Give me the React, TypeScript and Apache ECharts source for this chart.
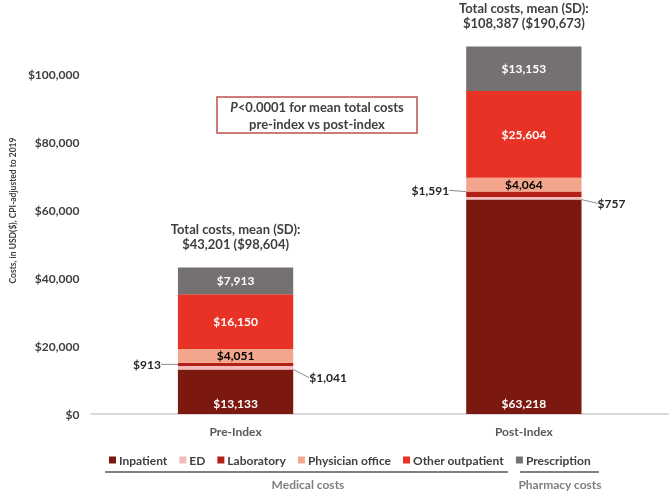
import React, { useEffect, useRef } from "react";
import * as echarts from "echarts";

const categories = ["Pre-Index", "Post-Index"];
const inpatient = [13133, 63218];
const ed = [1041, 757];
const laboratory = [913, 1591];
const physicianOffice = [4051, 4064];
const otherOutpatient = [16150, 25604];
const prescription = [7913, 13153];
const totalMeans = [43201, 108387];
const totalSDs = [98604, 190673];
const yTicks = [0, 20000, 40000, 60000, 80000, 100000];

const FONT = "Lato";
const TXT = "#404040";

const fmt = (v: number) => "$" + v.toLocaleString("en-US");

export default function App() {
  const ref = useRef<HTMLDivElement>(null);
  useEffect(() => {
    if (!ref.current) return;
    const chart = echarts.init(ref.current, null, { renderer: "svg" });
    const baseLabel = {
      show: true,
      fontFamily: FONT,
      fontWeight: "bold" as const,
      fontSize: 12,
      formatter: (p: any) => fmt(p.value),
    };
    const edDy = [10, 5];
    const labDy = [0, -4];
    chart.setOption({
      animation: false,
      grid: { left: 80, right: 1, top: 7, bottom: 78 },
      legend: {
        data: ["Inpatient", "ED", "Laboratory", "Physician office", "Other outpatient", "Prescription"],
        left: 104,
        top: 449,
        icon: "rect",
        itemWidth: 7,
        itemHeight: 7,
        itemGap: 12,
        textStyle: { fontFamily: FONT, fontWeight: "bold", fontSize: 12, color: TXT, padding: [0, 0, 0, -2] },
      },
      xAxis: {
        type: "category",
        data: categories,
        axisTick: { show: false },
        axisLine: { lineStyle: { color: "#d9d9d9", width: 2 } },
        axisLabel: { fontFamily: FONT, fontWeight: "bold", fontSize: 12, color: "#595959", margin: 11 },
      },
      yAxis: {
        type: "value",
        min: 0,
        max: 120000,
        interval: 20000,
        name: "Costs, in USD($), CPI-adjusted to 2019",
        nameLocation: "middle",
        nameGap: 72,
        nameTextStyle: { fontFamily: FONT, fontWeight: "bold", fontSize: 8.5, color: TXT },
        splitLine: { show: false },
        axisLine: { show: false },
        axisTick: { show: false },
        axisLabel: {
          fontFamily: FONT,
          fontWeight: "bold",
          fontSize: 12,
          color: TXT,
          margin: 12,
          formatter: (v: number) => (yTicks.indexOf(v) >= 0 ? fmt(v) : ""),
        },
      },
      series: [
        {
          name: "Inpatient",
          type: "bar",
          stack: "a",
          barWidth: "40%",
          data: inpatient,
          itemStyle: { color: "#7b1911" },
          label: { ...baseLabel, position: "insideBottom", distance: 5, color: "#fff" },
        },
        {
          name: "ED",
          type: "bar",
          stack: "a",
          data: ed,
          itemStyle: { color: "#f4b9b9" },
          label: { ...baseLabel, position: "right", distance: 2, color: "#262626" },
          labelLayout: (p: any) => ({ dx: 14, dy: edDy[p.dataIndex] }),
          labelLine: { show: true, length2: 0, lineStyle: { color: "#8c8c8c", width: 1 } },
        },
        {
          name: "Laboratory",
          type: "bar",
          stack: "a",
          data: laboratory,
          itemStyle: { color: "#b22017" },
          label: { ...baseLabel, position: "left", distance: 2, color: "#262626" },
          labelLayout: (p: any) => ({ dx: -15, dy: labDy[p.dataIndex] }),
          labelLine: { show: true, length2: 0, lineStyle: { color: "#8c8c8c", width: 1 } },
        },
        {
          name: "Physician office",
          type: "bar",
          stack: "a",
          data: physicianOffice,
          itemStyle: { color: "#f3a68b" },
          label: { ...baseLabel, position: "inside", color: "#000" },
        },
        {
          name: "Other outpatient",
          type: "bar",
          stack: "a",
          data: otherOutpatient,
          itemStyle: { color: "#e83225" },
          label: { ...baseLabel, position: "inside", color: "#fff" },
        },
        {
          name: "Prescription",
          type: "bar",
          stack: "a",
          data: prescription,
          itemStyle: { color: "#767171" },
          label: { ...baseLabel, position: "inside", color: "#fff" },
        },
        {
          name: "Total",
          type: "bar",
          stack: "a",
          data: [0, 0],
          itemStyle: { color: "transparent" },
          label: {
            show: true,
            position: "top",
            distance: 16,
            fontFamily: FONT,
            fontWeight: "bold",
            fontSize: 13,
            lineHeight: 15,
            color: TXT,
            formatter: (p: any) =>
              "Total costs, mean (SD):\n" + fmt(totalMeans[p.dataIndex]) + " (" + fmt(totalSDs[p.dataIndex]) + ")",
          },
        },
      ],
      graphic: [
        {
          type: "rect",
          shape: { x: 217, y: 97, width: 200, height: 36 },
          style: { fill: "#fff", stroke: "#c0504d", lineWidth: 1.5 },
        },
        {
          type: "text",
          x: 317,
          y: 115,
          style: {
            text: "{i|P}<0.0001 for mean total costs\npre-index vs post-index",
            align: "center",
            verticalAlign: "middle",
            fontFamily: FONT,
            fontWeight: "bold",
            fontSize: 13,
            lineHeight: 17,
            fill: TXT,
            rich: {
              i: { fontFamily: FONT, fontWeight: "bold", fontStyle: "italic", fontSize: 13, lineHeight: 17, fill: TXT, color: TXT },
            },
          },
        },
        { type: "line", shape: { x1: 105, y1: 472, x2: 508, y2: 472 }, style: { stroke: "#000", lineWidth: 1 } },
        { type: "line", shape: { x1: 520, y1: 472, x2: 599, y2: 472 }, style: { stroke: "#000", lineWidth: 1 } },
        {
          type: "text",
          x: 308,
          y: 484,
          style: { text: "Medical costs", align: "center", verticalAlign: "middle", fontFamily: FONT, fontWeight: "bold", fontSize: 12, fill: "#7f7f7f" },
        },
        {
          type: "text",
          x: 560,
          y: 484,
          style: { text: "Pharmacy costs", align: "center", verticalAlign: "middle", fontFamily: FONT, fontWeight: "bold", fontSize: 12, fill: "#7f7f7f" },
        },
      ],
    });
    return () => chart.dispose();
  }, []);
  return <div ref={ref} style={{ position: "fixed", left: 0, top: 0, width: 669, height: 492 }} />;
}
